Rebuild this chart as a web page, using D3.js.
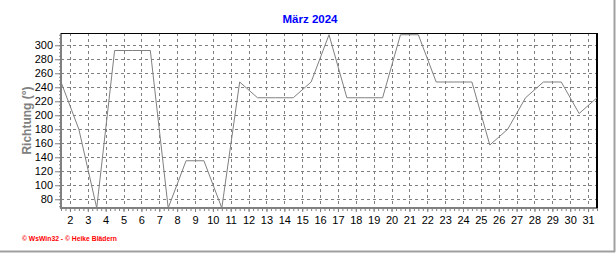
<!DOCTYPE html>
<html>
<head>
<meta charset="utf-8">
<script src="https://cdn.jsdelivr.net/npm/d3@7"></script>
<style>
  body { margin: 0; background: #fff; }
  svg { display: block; font-family: "Liberation Sans", Arial, sans-serif; }
</style>
</head>
<body>
<svg id="chart" width="616" height="253"></svg>
<script>
// wind direction, daily values for March 2024
const days = d3.range(1, 32);
const richtung = [247.5, 180, 67.5, 292.5, 292.5, 292.5, 67.5, 135, 135, 67.5,
  247.5, 225, 225, 225, 247.5, 315, 225, 225, 225, 315,
  315, 247.5, 247.5, 247.5, 157.5, 180, 225, 247.5, 247.5, 202.5, 225];
const yTicks = [80, 100, 120, 140, 160, 180, 200, 220, 240, 260, 280, 300];
const xTicks = d3.range(1.5, 31, 1);   // label n sits between day n-1 and day n
const title = "März 2024";
const yTitle = "Richtung (°)";
const footer = "© WsWin32 - © Heike Blädern";

const svg = d3.select("#chart");
const pLeft = 61, pRight = 597, pTop = 33, pBottom = 208;

const x = d3.scaleLinear().domain([1, 31]).range([pLeft, pRight]);
const y = d3.scaleLinear().domain([67.5, 317.5]).range([pBottom, pTop]);

// outer window frame
svg.append("line").attr("x1", 614.5).attr("x2", 614.5).attr("y1", 0).attr("y2", 252)
  .attr("stroke", "#a0a0a0").attr("stroke-width", 2);
svg.append("line").attr("x1", 0).attr("x2", 615).attr("y1", 251.5).attr("y2", 251.5)
  .attr("stroke", "#a0a0a0").attr("stroke-width", 2);

svg.append("text")
  .attr("x", 310).attr("y", 23)
  .attr("text-anchor", "middle")
  .attr("font-size", "11.5px").attr("font-weight", "bold")
  .attr("fill", "#0000ff")
  .text(title);

// grid
const grid = svg.append("g").attr("stroke", "#808080").attr("stroke-dasharray", "3,3").attr("shape-rendering", "crispEdges");
grid.selectAll(".hgrid").data(yTicks).enter().append("line")
  .attr("class", "hgrid")
  .attr("x1", pLeft).attr("x2", pRight)
  .attr("y1", d => Math.round(y(d)) + 0.5).attr("y2", d => Math.round(y(d)) + 0.5);
grid.selectAll(".vgrid").data(xTicks).enter().append("line")
  .attr("class", "vgrid")
  .attr("x1", d => Math.round(x(d)) + 0.5).attr("x2", d => Math.round(x(d)) + 0.5)
  .attr("y1", pTop).attr("y2", pBottom);

// y axis
const yAxis = svg.append("g").attr("transform", "translate(" + pLeft + ",0)");
yAxis.call(d3.axisLeft(y).tickValues(d3.range(70, 316, 5)).tickSize(2).tickFormat(""));
yAxis.selectAll(".tick line").attr("stroke", "#808080");
yAxis.select(".domain").remove();
const yMajor = svg.append("g").attr("transform", "translate(" + pLeft + ",0)");
yMajor.call(d3.axisLeft(y).tickValues(yTicks).tickSize(6).tickPadding(2));
yMajor.select(".domain").remove();
yMajor.selectAll(".tick line").attr("stroke", "#808080");
yMajor.selectAll(".tick text").attr("font-size", "11px").attr("fill", "#000")
  .attr("font-family", "'Liberation Sans', Arial, sans-serif");

// x axis
const xAxis = svg.append("g").attr("transform", "translate(0," + pBottom + ")");
xAxis.call(d3.axisBottom(x).tickValues(d3.range(1, 31.01, 0.25)).tickSize(3).tickFormat(""));
xAxis.selectAll(".tick line").attr("stroke", "#808080");
xAxis.select(".domain").remove();
const xMajor = svg.append("g").attr("transform", "translate(0," + pBottom + ")");
xMajor.call(d3.axisBottom(x).tickValues(xTicks).tickSize(4).tickPadding(4).tickFormat(d => Math.ceil(d)));
xMajor.select(".domain").remove();
xMajor.selectAll(".tick line").attr("stroke", "#808080");
xMajor.selectAll(".tick text").attr("font-size", "11px").attr("fill", "#000")
  .attr("font-family", "'Liberation Sans', Arial, sans-serif");

// frame: gray left/bottom axes, black top/right
svg.append("line").attr("x1", pLeft).attr("x2", pLeft).attr("y1", pTop).attr("y2", pBottom + 1)
  .attr("stroke", "#808080").attr("stroke-width", 2);
svg.append("line").attr("x1", pLeft - 1).attr("x2", pRight).attr("y1", pBottom).attr("y2", pBottom)
  .attr("stroke", "#808080").attr("stroke-width", 2);
svg.append("line").attr("x1", pLeft).attr("x2", pRight).attr("y1", pTop + 0.5).attr("y2", pTop + 0.5)
  .attr("stroke", "#000").attr("stroke-width", 1);
svg.append("line").attr("x1", pRight).attr("x2", pRight).attr("y1", pTop).attr("y2", pBottom)
  .attr("stroke", "#000").attr("stroke-width", 2);

// data line
const line = d3.line().x((d, i) => x(days[i])).y(d => y(d));
svg.append("path")
  .datum(richtung)
  .attr("d", line)
  .attr("fill", "none")
  .attr("stroke", "#808080")
  .attr("stroke-width", 1);

svg.append("text")
  .attr("transform", "translate(31," + ((pTop + pBottom) / 2) + ") rotate(-90)")
  .attr("text-anchor", "middle")
  .attr("font-size", "12px").attr("font-weight", "bold")
  .attr("fill", "#808080")
  .text(yTitle);

svg.append("text")
  .attr("x", 22).attr("y", 241)
  .attr("font-size", "7px").attr("font-weight", "bold")
  .attr("fill", "#ff0000")
  .attr("textLength", 95).attr("lengthAdjust", "spacingAndGlyphs")
  .text(footer);
</script>
</body>
</html>
